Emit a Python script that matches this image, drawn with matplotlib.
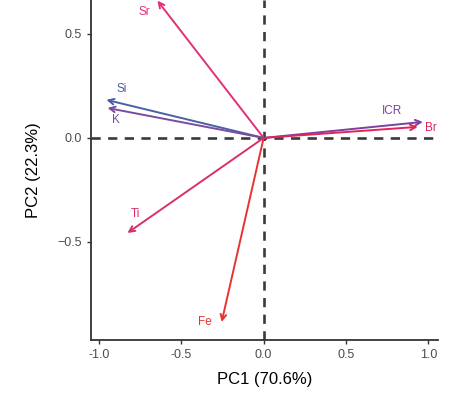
import numpy as np
import matplotlib
matplotlib.use("Agg")
import matplotlib.pyplot as plt

plt.rcParams['font.family'] = ['Liberation Sans', 'DejaVu Sans']

# loadings
variables = ["Sr", "Si", "K", "ICR", "Br", "Ti", "Fe"]
pc1 = [-0.645, -0.955, -0.948, 0.967, 0.936, -0.827, -0.255]
pc2 = [0.66, 0.183, 0.144, 0.077, 0.053, -0.457, -0.885]
colors = ["#E0307A", "#4A5FA8", "#7A4BA0", "#7E3F9E", "#E0245A", "#D8306E", "#E83232"]
# label offsets (data units) from arrow tips
label_dx = [-0.08, 0.09, 0.05, -0.19, 0.08, 0.05, -0.10]
label_dy = [-0.055, 0.05, -0.06, 0.05, -0.005, 0.09, 0.0]

fig = plt.figure(figsize=(4.5, 4.12), dpi=100)
ax = fig.add_axes([0.202, 0.175, 0.771, 0.825])

ax.axhline(0, color="#3a3a3a", linestyle=(0, (3.5, 2.8)), linewidth=1.9, zorder=1)
ax.axvline(0, color="#3a3a3a", linestyle=(0, (3.5, 2.8)), linewidth=1.9, zorder=1)

for name, x, y, c, dx, dy in zip(variables, pc1, pc2, colors, label_dx, label_dy):
    ax.annotate("", xy=(x, y), xytext=(0, 0), annotation_clip=False,
                arrowprops=dict(arrowstyle="->", color=c, lw=1.4,
                                shrinkA=0, shrinkB=0, mutation_scale=10),
                zorder=3)
    ax.text(x + dx, y + dy, name, color=c, fontsize=8.5,
            ha="center", va="center", zorder=4)

ax.set_xlim(-1.049, 1.058)
ax.set_ylim(-0.971, 0.663)
ax.set_xticks([-1.0, -0.5, 0.0, 0.5, 1.0])
ax.set_yticks([-0.5, 0.0, 0.5])
ax.set_xticklabels(["-1.0", "-0.5", "0.0", "0.5", "1.0"])
ax.set_yticklabels(["\u22120.5", "0.0", "0.5"])

for s in ["top", "right"]:
    ax.spines[s].set_visible(False)
for s in ["left", "bottom"]:
    ax.spines[s].set_color("#333333")
    ax.spines[s].set_linewidth(1.3)

ax.tick_params(colors="#333333", labelcolor="#4D4D4D", labelsize=9,
               length=3, width=1)

ax.set_xlabel("PC1 (70.6%)", fontsize=12, color="black", labelpad=8)
ax.set_ylabel("PC2 (22.3%)", fontsize=12, color="black", labelpad=12)

fig.savefig("out.png", dpi=100)
